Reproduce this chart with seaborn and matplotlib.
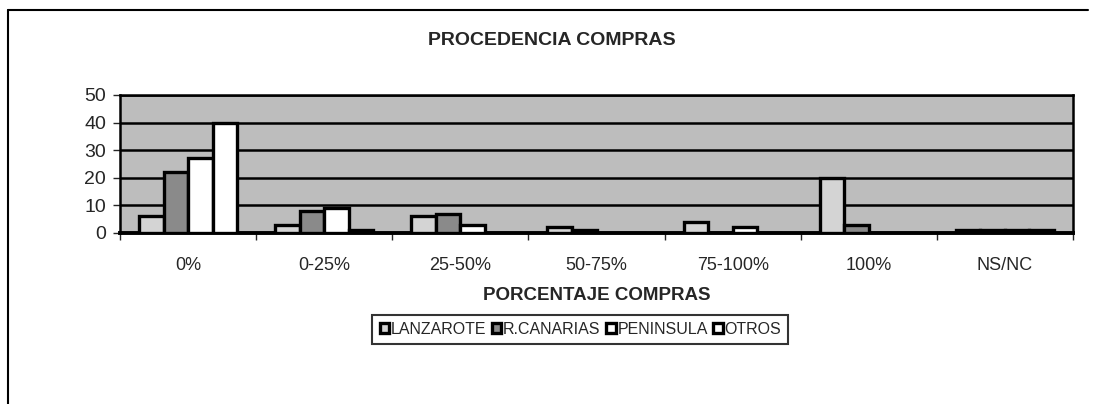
import matplotlib
matplotlib.use("Agg")
import matplotlib.pyplot as plt
import seaborn as sns
import pandas as pd
from matplotlib.ticker import FixedLocator

# -----------------------------
# DATA
# -----------------------------
categorias = ["0%", "0-25%", "25-50%", "50-75%", "75-100%", "100%", "NS/NC"]
lanzarote = [6, 3, 6, 2, 4, 20, 1]
r_canarias = [22, 8, 7, 1, 0, 3, 1]
peninsula = [27, 9, 3, 0, 2, 0, 1]
otros = [40, 1, 0, 0, 0, 0, 1]
series = ["LANZAROTE", "R.CANARIAS", "PENINSULA", "OTROS"]

rows = []
for name, vals in zip(series, [lanzarote, r_canarias, peninsula, otros]):
    for cat, v in zip(categorias, vals):
        rows.append({"porcentaje": cat, "valor": v, "origen": name})
df = pd.DataFrame(rows)

# -----------------------------
# PLOT
# -----------------------------
sns.set_style("white")
plt.rcParams["font.family"] = ["Liberation Sans", "DejaVu Sans"]

fig = plt.figure(figsize=(10.93, 4.04), dpi=100)
ax = fig.add_axes([0.1098, 0.4233, 0.8719, 0.3416])

# grey plot area (the original is a stippled pattern)
ax.set_facecolor("#bdbdbd")

colores = {"LANZAROTE": "#d4d4d4", "R.CANARIAS": "#8a8a8a",
           "PENINSULA": "white", "OTROS": "white"}

sns.barplot(
    data=df, x="porcentaje", y="valor", hue="origen",
    order=categorias, hue_order=series, palette=colores,
    edgecolor="black", linewidth=2.4, width=0.72, ax=ax, zorder=3
)

ax.set_ylim(0, 50)
ax.set_xlim(-0.5, len(categorias) - 0.5)
ax.set_yticks([0, 10, 20, 30, 40, 50])
ax.yaxis.grid(True, color="black", linewidth=1.8, zorder=1)
ax.set_axisbelow(True)

ax.tick_params(axis="y", labelsize=14, length=5, width=1, direction="out",
               left=True, pad=5)
ax.tick_params(axis="x", labelsize=13, length=0, pad=17)
ax.xaxis.set_minor_locator(FixedLocator([i - 0.5 for i in range(len(categorias) + 1)]))
ax.tick_params(axis="x", which="minor", length=5, width=1, bottom=True, direction="out")

for side in ["left", "right", "top"]:
    ax.spines[side].set_color("black")
    ax.spines[side].set_linewidth(1.8)
ax.spines["bottom"].set_linewidth(2.8)
ax.spines["bottom"].set_color("black")

ax.set_ylabel("")
ax.set_xlabel("PORCENTAJE COMPRAS", fontsize=13.5, fontweight="bold", labelpad=10)

fig.text(0.505, 0.9, "PROCEDENCIA COMPRAS", ha="center", va="center",
         fontsize=14, fontweight="bold")

# legend
handles, labels = ax.get_legend_handles_labels()
ax.legend_.remove()
leg = fig.legend(handles, labels, ncol=4, loc="center",
                 bbox_to_anchor=(0.531, 0.185), fontsize=11.5,
                 frameon=True, fancybox=False, edgecolor="black",
                 handlelength=0.6, handleheight=0.6, handletextpad=0.1,
                 columnspacing=0.35, borderpad=0.45, borderaxespad=0)
leg.get_frame().set_linewidth(1.5)

# outer frame of the chart
fig.add_artist(plt.Line2D([0.0075, 0.0075], [0.0, 0.975], color="black", linewidth=1.5))
fig.add_artist(plt.Line2D([0.0075, 0.995], [0.975, 0.975], color="black", linewidth=1.5))

fig.savefig("out.png", dpi=100)
